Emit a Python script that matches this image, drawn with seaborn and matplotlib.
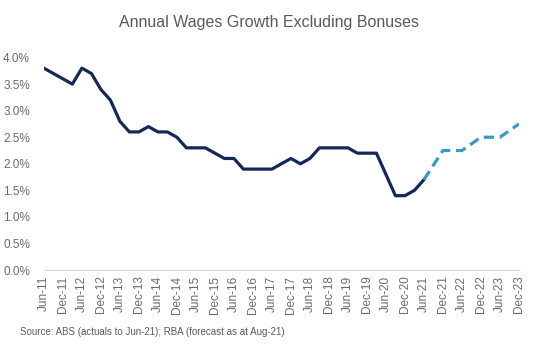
import numpy as np
import pandas as pd
import matplotlib
matplotlib.use('Agg')
import matplotlib.pyplot as plt
import seaborn as sns

# ====== DATA

# quarterly actuals, Jun-11 .. Jun-21 (annual % change)
actual = [3.8, 3.7, 3.6, 3.5, 3.8, 3.7, 3.4, 3.2, 2.8, 2.6,
          2.6, 2.7, 2.6, 2.6, 2.5, 2.3, 2.3, 2.3, 2.2, 2.1,
          2.1, 1.9, 1.9, 1.9, 1.9, 2.0, 2.1, 2.0, 2.1, 2.3,
          2.3, 2.3, 2.3, 2.2, 2.2, 2.2, 1.8, 1.4, 1.4, 1.5,
          1.7]

# half-yearly RBA forecast, Jun-21 .. Dec-23
forecast = [1.7, 2.25, 2.25, 2.5, 2.5, 2.75]

tick_labels = ['Jun-11', 'Dec-11', 'Jun-12', 'Dec-12', 'Jun-13', 'Dec-13',
               'Jun-14', 'Dec-14', 'Jun-15', 'Dec-15', 'Jun-16', 'Dec-16',
               'Jun-17', 'Dec-17', 'Jun-18', 'Dec-18', 'Jun-19', 'Dec-19',
               'Jun-20', 'Dec-20', 'Jun-21', 'Dec-21', 'Jun-22', 'Dec-22',
               'Jun-23', 'Dec-23']

# ====== FRAMES (x = quarter index from Jun-11)

df_act = pd.DataFrame({'q': np.arange(len(actual)), 'value': actual})
df_fc = pd.DataFrame({'q': np.arange(len(forecast)) * 2 + len(actual) - 1,
                      'value': forecast})

# ====== PLOT

sns.set_style('white')
plt.rcParams['font.family'] = ['Liberation Sans', 'DejaVu Sans']

grey = '#595959'
fig = plt.figure(figsize=(5.35, 3.53), dpi=100)
ax = fig.add_axes([0.082, 0.235, 0.888, 0.602])

sns.lineplot(x='q', y='value', data=df_act, ax=ax, color='#14275a', linewidth=2.3)
sns.lineplot(x='q', y='value', data=df_fc, ax=ax, color='#3a98c6', linewidth=2.3,
             linestyle=(0, (3.2, 1.8)))

ax.set_xlim(0, 50)
ax.set_ylim(0, 4.0)
ax.set_yticks(np.arange(0, 4.01, 0.5))
ax.set_yticklabels([f'{v:.1f}%' for v in np.arange(0, 4.01, 0.5)])
ax.set_xticks(np.arange(len(tick_labels)) * 2)
ax.set_xticklabels(tick_labels, rotation=90)
ax.tick_params(axis='both', labelsize=8.5, colors='#6a6a6a', length=0, pad=4)
ax.tick_params(axis='y', pad=10)
ax.set_xlabel('')
ax.set_ylabel('')

for s in ['top', 'right', 'left']:
    ax.spines[s].set_visible(False)
ax.spines['bottom'].set_color('#d9d9d9')
ax.spines['bottom'].set_linewidth(1)

fig.text(0.502, 0.935, 'Annual Wages Growth Excluding Bonuses', ha='center', va='center',
         fontsize=11.5, color=grey)
fig.text(0.038, 0.06, 'Source: ABS (actuals to Jun-21); RBA (forecast as at Aug-21)',
         ha='left', va='center', fontsize=7, color=grey)

plt.savefig('out.png', dpi=100)
plt.close()
